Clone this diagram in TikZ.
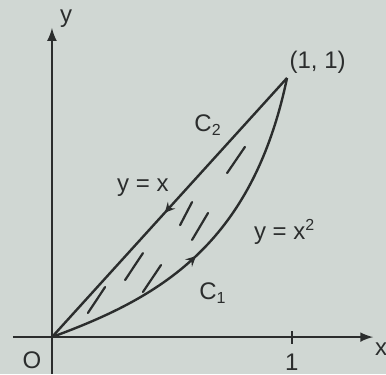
\documentclass[tikz,border=0pt]{standalone}
\usepackage{fontspec}
\setmainfont{Liberation Sans}
\usetikzlibrary{arrows,decorations.markings}
\definecolor{paperGrey}{HTML}{D0D7D3}
\definecolor{inkGrey}{HTML}{2B2D2D}

\tikzset{
  ink/.style={inkGrey,line width=1.2pt},
  hatch/.style={inkGrey,line width=1.1pt,line cap=round},
  midtip/.style={postaction={decorate},
    decoration={markings,mark=at position #1 with {\arrow{stealth}}}},
  lbl/.style={text=inkGrey,inner sep=1pt},
}

\begin{document}
\begin{tikzpicture}[x=117.5pt,y=129.5pt,font=\fontsize{12}{14}\selectfont]
  \fill[paperGrey] (-0.221,-0.143) rectangle (1.421,1.301);
  \useasboundingbox (-0.221,-0.143) rectangle (1.421,1.301);
  \coordinate (O) at (0,0);
  \coordinate (P) at (1,1);

  % axes
  \coordinate (xstart) at (-0.166,0);
  \coordinate (xend) at (1.366,0);
  \coordinate (ystart) at (0,-0.143);
  \coordinate (yend) at (0,1.193);
  \draw[ink,-latex] (xstart) -- (xend);
  \draw[ink,-latex] (ystart) -- (yend);
  \draw[ink] (1.02,-0.025) -- (1.02,0.025);
  \node[lbl] (xlab) at (1.40,-0.045) {x};
  \node[lbl] (ylab) at (0.06,1.23) {y};
  \node[lbl] (olab) at (-0.085,-0.089) {O};
  \node[lbl] (onelab) at (1.02,-0.097) {1};

  % the two paths
  \draw[ink,midtip=0.45] (O) .. controls (0.45,0.15) and (0.85,0.35) .. (P);
  \draw[ink,midtip=0.52] (P) -- (O);

  % hatching
  \draw[hatch] (0.153,0.093) -- (0.226,0.193);
  \draw[hatch] (0.311,0.220) -- (0.387,0.324);
  \draw[hatch] (0.387,0.174) -- (0.464,0.278);
  \draw[hatch] (0.545,0.432) -- (0.596,0.521);
  \draw[hatch] (0.596,0.375) -- (0.664,0.479);
  \draw[hatch] (0.745,0.633) -- (0.821,0.734);

  % labels
  \node[lbl] (plab) at (1.13,1.06) {(1, 1)};
  \node[lbl] (ctwo) at (0.664,0.819) {C\textsubscript{2}};
  \node[lbl] (line) at (0.387,0.575) {y = x};
  \node[lbl] (parab) at (0.99,0.405) {y = x\textsuperscript{2}};
  \node[lbl] (cone) at (0.685,0.17) {C\textsubscript{1}};
\end{tikzpicture}
\end{document}
